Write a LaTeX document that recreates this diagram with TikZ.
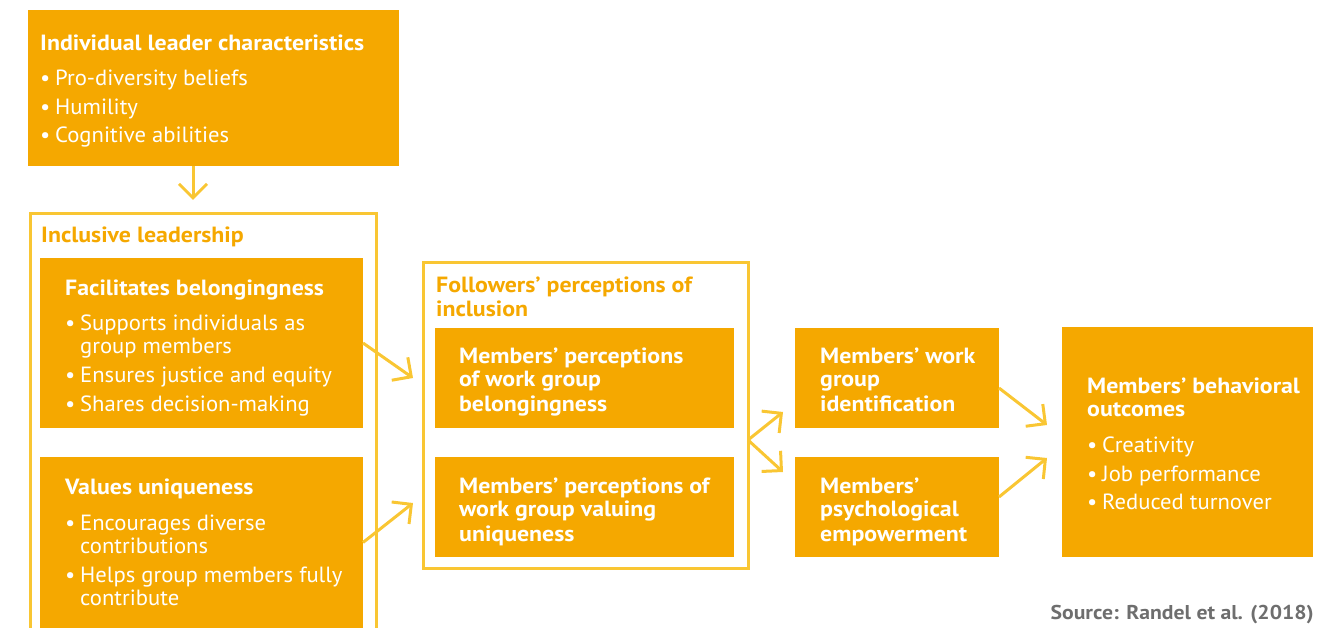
\documentclass[tikz,border=0pt]{standalone}
\usepackage{fontspec}
\setmainfont{PT Sans}[FakeStretch=1.03, BoldFeatures={FakeStretch=1.085}]
\usetikzlibrary{arrows.meta}
\definecolor{orng}{HTML}{F5A800}
\definecolor{lyel}{HTML}{F9C633}
\definecolor{srcgray}{HTML}{6E6E6E}
\newcommand{\bl}{\makebox[15pt][l]{•}}
\newcommand{\ind}{\hspace*{15pt}}
\newcommand{\ml}[1]{\vtop{\baselineskip=24pt\lineskiplimit=-100pt\halign{##\hfil\cr#1\crcr}}}
\newcommand{\gap}[1]{\noalign{\vskip#1}}
\tikzset{
  box/.style={anchor=north west, fill=orng, inner sep=0pt, outer sep=0pt},
  frame/.style={draw=lyel, line width=3pt, inner sep=0pt, outer sep=0pt, anchor=north west},
  txt/.style={anchor=base west, inner sep=0pt, text=white, font=\fontsize{22}{24}\selectfont},
  txtb/.style={txt, font=\fontsize{22}{24}\selectfont\bfseries},
  lbl/.style={txtb, text=orng},
  conn/.style={draw=lyel, line width=3pt, -{Straight Barb[length=14pt,width=28pt,line width=3pt]}},
}
\begin{document}
\begin{tikzpicture}[x=1pt,y=-1pt]
\useasboundingbox (0,0) rectangle (1326,628);
\clip (0,0) rectangle (1326,628);
% boxes
\node[box, minimum width=371pt, minimum height=156pt] (ilc) at (28,10) {};
\node[frame, minimum width=346pt, minimum height=480pt] (incl) at (30,213.5) {};
\node[box, minimum width=323pt, minimum height=170pt] (fac) at (40,258) {};
\node[box, minimum width=323pt, minimum height=171pt] (val) at (40,457) {};
\node[frame, minimum width=325pt, minimum height=306pt] (fol) at (423.5,262.5) {};
\node[box, minimum width=299pt, minimum height=100pt] (mpb) at (435,328) {};
\node[box, minimum width=299pt, minimum height=100pt] (mpu) at (435,457) {};
\node[box, minimum width=204pt, minimum height=100pt] (wgi) at (795,328) {};
\node[box, minimum width=204pt, minimum height=100pt] (emp) at (795,457) {};
\node[box, minimum width=251pt, minimum height=230pt] (beh) at (1062,327) {};
% texts
\node[txt] (t-ilc) at (40,51) {\ml{\textbf{Individual leader characteristics}\cr\gap{11pt}
  \bl Pro-diversity beliefs\cr\gap{5pt}
  \bl Humility\cr\gap{4pt}
  \bl Cognitive abilities}};
\node[lbl] (t-incl) at (41,243) {Inclusive leadership};
\node[txt] (t-fac) at (65,296) {\ml{\textbf{Facilitates belongingness}\cr\gap{11pt}
  \bl Supports individuals as\cr\gap{-1pt}
  \ind group members\cr\gap{5pt}
  \bl Ensures justice and equity\cr\gap{5pt}
  \bl Shares decision-making}};
\node[txt] (t-val) at (65,494) {\ml{\textbf{Values uniqueness}\cr\gap{12pt}
  \bl Encourages diverse\cr\gap{-1pt}
  \ind contributions\cr\gap{5pt}
  \bl Helps group members fully\cr\gap{-1pt}
  \ind contribute}};
\node[lbl] (t-fol) at (436,293) {\ml{Followers’ perceptions of\cr inclusion}};
\node[txtb] (t-mpb) at (459,363) {\ml{Members’ perceptions\cr of work group\cr belongingness}};
\node[txtb] (t-mpu) at (459,493) {\ml{Members’ perceptions of\cr work group valuing\cr uniqueness}};
\node[txtb] (t-wgi) at (820,363) {\ml{Members’ work\cr group\cr identification}};
\node[txtb] (t-emp) at (820,493) {\ml{Members’\cr psychological\cr empowerment}};
\node[txt] (t-beh) at (1087,393) {\ml{\textbf{Members’ behavioral}\cr \textbf{outcomes}\cr\gap{11pt}
  \bl Creativity\cr\gap{5pt}
  \bl Job performance\cr\gap{4pt}
  \bl Reduced turnover}};
\node[anchor=base east, inner sep=0pt, text=srcgray, font=\fontsize{20}{24}\selectfont\bfseries] (src) at (1314,619) {Source: Randel et al. (2018)};
% connectors
\coordinate (d1) at (193,200);
\coordinate (e-fac) at (413,378);
\coordinate (e-val) at (413,503);
\coordinate (fork) at (748,440);
\coordinate (e-wgi) at (783,412);
\coordinate (e-emp) at (783,472);
\coordinate (e-beh1) at (1047,425);
\coordinate (e-beh2) at (1047,458);
\draw[conn] (d1 |- ilc.south) -- (d1);
\draw[conn] (fac.east) -- (e-fac);
\draw[conn] (val.east) -- (e-val);
\draw[conn] (fork) -- (e-wgi);
\draw[conn] (fork) -- (e-emp);
\draw[conn] ([yshift=-10pt]wgi.east) -- (e-beh1);
\draw[conn] ([yshift=10pt]emp.east) -- (e-beh2);
\end{tikzpicture}
\end{document}
